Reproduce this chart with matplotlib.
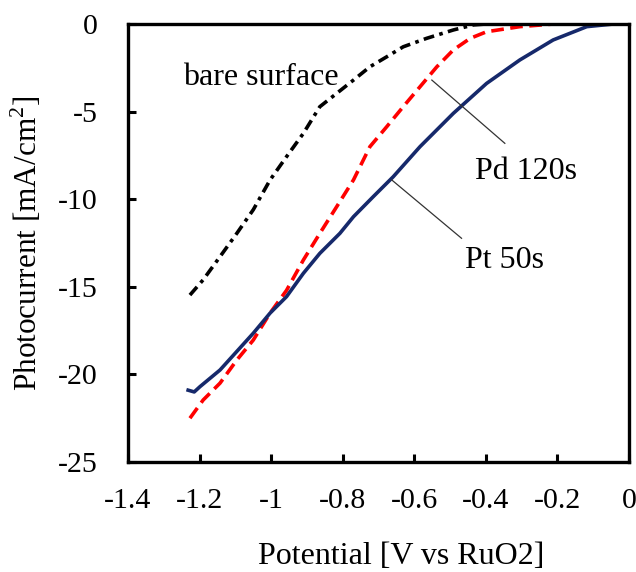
import matplotlib
matplotlib.use("Agg")
import matplotlib.pyplot as plt

plt.rcParams['font.family'] = ['Liberation Serif', 'DejaVu Serif']
plt.rcParams['axes.unicode_minus'] = False
plt.rcParams['mathtext.fontset'] = 'custom'
plt.rcParams['mathtext.rm'] = 'Liberation Serif'

# Pt 50s (navy solid)
pt_x = [-1.232, -1.215, -1.199, -1.143, -1.05, -1.003, -0.957, -0.910, -0.864, -0.808, -0.770,
        -0.715, -0.659, -0.584, -0.491, -0.398, -0.305, -0.212, -0.118, -0.044, 0.0]
pt_y = [-20.9, -21.0, -20.7, -19.75, -17.65, -16.5, -15.56, -14.23, -13.09, -11.95, -11.0,
        -9.86, -8.72, -7.0, -5.1, -3.39, -2.05, -0.91, -0.15, 0.0, 0.0]

# Pd 120s (red dashed)
pd_x = [-1.227, -1.19, -1.143, -1.096, -1.05, -1.003, -0.957, -0.910, -0.864, -0.817,
        -0.770, -0.724, -0.677, -0.631, -0.584, -0.537, -0.491, -0.444, -0.398, -0.305,
        -0.212, 0.0]
pd_y = [-22.5, -21.46, -20.5, -19.18, -18.04, -16.5, -15.2, -13.47, -11.95, -10.43,
        -8.9, -7.0, -5.86, -4.72, -3.58, -2.44, -1.48, -0.82, -0.44, -0.15,
        0.0, 0.0]

# bare surface (black dash-dot)
bare_x = [-1.227, -1.19, -1.143, -1.096, -1.05, -1.003, -0.957, -0.910, -0.864, -0.817,
          -0.770, -0.724, -0.677, -0.631, -0.566, -0.491, -0.435, -0.40, 0.0]
bare_y = [-15.47, -14.6, -13.28, -11.95, -10.6, -8.9, -7.57, -6.24, -4.72, -3.96,
          -3.2, -2.44, -1.87, -1.3, -0.82, -0.34, -0.05, 0.0, 0.0]

x_ticks = [-1.4, -1.2, -1.0, -0.8, -0.6, -0.4, -0.2, 0.0]
x_labels = ['-1.4', '-1.2', '-1', '-0.8', '-0.6', '-0.4', '-0.2', '0']
y_ticks = [-25, -20, -15, -10, -5, 0]
y_labels = ['-25', '-20', '-15', '-10', '-5', '0']

fig = plt.figure(figsize=(6.36, 5.72), dpi=100)
ax = fig.add_axes([0.2013, 0.1923, 0.989 - 0.2013, 0.958 - 0.1923])

ax.plot(bare_x, bare_y, color='black', lw=2.6, linestyle=(0, (3, 1.5, 1, 1.5)))
ax.plot(pd_x, pd_y, color='#ff0000', lw=2.6, linestyle=(0, (3.5, 1.8)))
ax.plot(pt_x, pt_y, color='#16296b', lw=2.6, linestyle='-')

# leader lines
ax.plot([-0.551, -0.347], [-3.2, -6.81], color='#333333', lw=0.9)
ax.plot([-0.663, -0.468], [-8.9, -12.23], color='#333333', lw=0.9)

ax.text(-1.246, -3.08, 'bare surface', fontsize=23, ha='left', va='center')
ax.text(-0.430, -8.39, 'Pd 120s', fontsize=23, ha='left', va='center')
ax.text(-0.458, -13.5, 'Pt 50s', fontsize=23, ha='left', va='center')

ax.set_xlim(-1.4, 0)
ax.set_ylim(-25, 0)
ax.set_xticks(x_ticks)
ax.set_xticklabels(x_labels)
ax.set_yticks(y_ticks)
ax.set_yticklabels(y_labels)
ax.tick_params(direction='in', length=6, width=2.2, labelsize=21.5, pad=19,
               top=False, right=False)
ax.tick_params(axis='y', pad=22)
for s in ax.spines.values():
    s.set_linewidth(2.4)

ax.set_xlabel('Potential [V vs RuO2]', fontsize=23)
ax.xaxis.set_label_coords(0.545, -0.182)
ax.set_ylabel('Photocurrent [mA/cm$^2$]', fontsize=22.5, labelpad=10)

fig.savefig('out.png', dpi=100)
